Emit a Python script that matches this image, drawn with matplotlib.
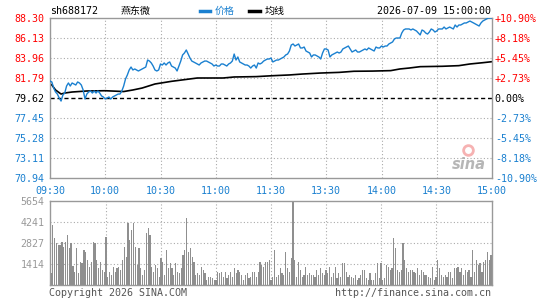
import numpy as np
import matplotlib
matplotlib.use('Agg')
import matplotlib.pyplot as plt

# ------------------------------ Data ------------------------------------------
code = 'sh688172'
name = '燕东微'
stamp = '2026-07-09 15:00:00'
prev_close = 79.62

price_ticks = [70.94, 73.11, 75.28, 77.45, 79.62, 81.79, 83.96, 86.13, 88.30]
pct_labels = ['-10.90%', '-8.18%', '-5.45%', '-2.73%', '0.00%',
              '+2.73%', '+5.45%', '+8.18%', '+10.90%']
time_labels = ['09:30', '10:00', '10:30', '11:00', '11:30',
               '13:30', '14:00', '14:30', '15:00']
vol_ticks = [1414, 2827, 4241, 5654]

# one value per trading minute (241 points, 11:30 and 13:00 share the middle)
price = [
    81.46, 81.36, 80.70, 80.27, 80.05, 79.62, 79.29, 79.94, 80.16, 80.92,
    81.25, 80.92, 81.25, 81.14, 81.03, 81.36, 81.25, 81.03, 80.49, 79.51,
    80.05, 80.27, 80.38, 80.16, 80.38, 80.16, 80.38, 80.16, 79.84, 79.73,
    79.51, 79.62, 79.73, 79.51, 79.73, 79.84, 79.94, 80.05, 80.05, 80.38,
    80.92, 81.68, 82.12, 82.66, 82.98, 82.66, 82.77, 82.66, 82.55, 82.66,
    82.77, 82.87, 82.98, 83.74, 83.63, 83.42, 83.09, 82.66, 82.55, 82.66,
    83.31, 83.20, 83.42, 83.20, 83.42, 83.53, 83.09, 82.98, 82.87, 82.55,
    83.09, 83.63, 84.29, 84.50, 84.83, 84.39, 83.96, 83.63, 83.53, 83.42,
    83.31, 83.20, 83.42, 83.53, 83.63, 83.63, 83.53, 83.42, 83.31, 83.09,
    83.20, 83.09, 83.09, 83.31, 83.31, 83.20, 83.09, 83.31, 83.42, 83.63,
    84.39, 83.74, 84.07, 83.53, 83.42, 83.31, 83.20, 83.20, 83.09, 82.87,
    83.09, 83.20, 82.87, 83.42, 83.31, 83.42, 83.63, 83.74, 83.85, 83.85,
    83.96, 83.53, 83.63, 83.74, 83.74, 83.85, 83.96, 84.07, 84.29, 84.39,
    84.72, 85.37, 85.48, 85.26, 85.37, 85.48, 85.05, 85.05, 85.15, 84.72,
    84.61, 84.50, 84.07, 84.29, 84.29, 84.18, 84.07, 83.85, 84.50, 84.94,
    84.94, 84.83, 84.07, 84.29, 84.39, 84.50, 84.61, 84.50, 84.61, 84.94,
    85.05, 85.15, 85.26, 84.94, 84.61, 84.72, 84.83, 84.61, 84.61, 84.72,
    84.83, 84.94, 84.83, 85.05, 84.94, 84.83, 84.72, 85.15, 85.05, 85.05,
    85.26, 85.15, 85.26, 85.26, 85.48, 85.59, 85.70, 86.02, 86.13, 86.13,
    86.13, 86.67, 87.00, 87.11, 87.11, 87.11, 87.00, 87.11, 87.00, 86.89,
    86.67, 86.46, 87.00, 86.89, 86.67, 86.56, 86.78, 87.11, 87.00, 86.78,
    86.89, 87.11, 87.11, 87.11, 87.32, 87.11, 87.22, 87.32, 87.22, 87.11,
    87.54, 87.32, 87.54, 87.54, 87.65, 87.76, 87.76, 87.87, 87.97, 87.87,
    87.76, 87.65, 87.54, 87.43, 87.76, 87.97, 88.08, 88.19, 88.30, 88.30,
    88.30,
]

# average-price line, read at the minutes where it bends
avg_minute = [0, 1, 3, 6, 8, 12, 20, 30, 40, 45, 50, 57, 66, 80, 94, 100,
              112, 121, 130, 137, 147, 157, 165, 175, 185, 190, 195, 201,
              213, 222, 228, 235, 240]
avg_price = [81.14, 81.03, 80.49, 80.05, 80.16, 80.27, 80.38, 80.41, 80.32,
             80.49, 80.70, 81.14, 81.43, 81.79, 81.79, 81.90, 81.94, 82.04,
             82.12, 82.22, 82.33, 82.40, 82.52, 82.54, 82.59, 82.77, 82.87,
             83.02, 83.06, 83.13, 83.31, 83.45, 83.56]

volume = [
    785, 4038, 3140, 2804, 2692, 2692, 2916, 2580, 2916, 3365,
    2468, 2804, 1279, 897, 2468, 785, 1570, 1458, 2355, 2243,
    1683, 1234, 1570, 2916, 2804, 1683, 1122, 1570, 1010, 897,
    3253, 561, 897, 673, 1234, 897, 1122, 1234, 1010, 1683,
    2580, 1907, 4150, 3028, 3700, 4150, 2580, 1346, 2468, 1122,
    673, 1010, 3477, 3813, 3365, 1234, 897, 1346, 1122, 561,
    1795, 1570, 673, 2355, 1122, 1458, 1122, 673, 1458, 897,
    785, 1122, 2019, 2355, 4487, 2243, 2468, 1907, 1570, 673,
    785, 673, 1234, 1010, 785, 337, 561, 561, 449, 337,
    337, 897, 785, 897, 561, 897, 449, 673, 897, 561,
    1122, 785, 1010, 897, 673, 337, 673, 785, 449, 561,
    897, 897, 561, 897, 1570, 1346, 1234, 1570, 1570, 1683,
    337,
    561, 2355, 561, 673, 1122, 785, 673, 2243, 1122, 897,
    1795, 5654, 1683, 561, 1570, 1010, 561, 673, 1234, 673,
    785, 673, 673, 561, 1010, 673, 1122, 785, 673, 1010, 785,
    1234, 561, 785, 1234, 449, 785, 561, 1458, 1458, 897,
    561, 673, 561, 449, 673, 337, 449, 673, 1010, 1010,
    449, 337, 785, 337, 337, 785, 1458, 449, 1458, 337,
    449, 1346, 1234, 1010, 1122, 3140, 2468, 1010, 897, 1010,
    2804, 1683, 1122, 897, 1010, 1010, 897, 785, 1122, 673,
    1010, 897, 673, 673, 561, 449, 1234, 337, 561, 1683,
    1122, 673, 561, 673, 561, 897, 897, 449, 1122, 1122,
    1234, 897, 1122, 673, 1010, 897, 1010, 561, 2355, 897,
    1683, 1346, 1458, 897, 1570, 1683, 2243, 1683, 2019,
]

# ------------------------------ Style -----------------------------------------
RED = '#ff0000'
BLUE = '#1a80d0'
GRAY = '#999999'
BAR = '#8f8f8f'
GRID = '#aaaaaa'
MONO = ['DejaVu Sans Mono', 'Noto Sans CJK SC']
FS = 7.2
W, H = 545, 300

plt.rcParams['font.family'] = MONO
plt.rcParams['font.size'] = FS

minutes = np.arange(len(price))
n_last = len(price) - 1


def px(x, y):
    return x / W, 1 - y / H


def label_color(v):
    if v > prev_close + 1e-6:
        return RED
    if v < prev_close - 1e-6:
        return BLUE
    return 'black'


fig = plt.figure(figsize=(W / 100, H / 100), dpi=100)
fig.patch.set_facecolor('white')

# ------------------------------ Price panel -----------------------------------
l, b = px(50, 178)
ax = fig.add_axes([l, b, 442 / W, 160 / H])
ax.set_xlim(0, n_last)
ax.set_ylim(price_ticks[0], price_ticks[-1])
for s in ax.spines.values():
    s.set_color(GRAY)
    s.set_linewidth(1.0)

for v in price_ticks[1:-1]:
    if abs(v - prev_close) < 1e-6:
        ax.axhline(v, color='black', lw=1.0, ls=(0, (3, 2)), zorder=1)
    else:
        ax.axhline(v, color=GRID, lw=0.8, ls=(0, (1, 2)), zorder=1)
xt = np.arange(0, n_last + 1, 30)
for x in xt[1:-1]:
    ax.axvline(x, color=GRID, lw=0.8, ls=(0, (1, 2)), zorder=1)

ax.plot(minutes, price, color=BLUE, lw=1.0, zorder=3)
ax.plot(avg_minute, avg_price, color='black', lw=1.2, zorder=2)

ax.set_yticks(price_ticks)
ax.set_yticklabels([f'{v:.2f}' for v in price_ticks])
for t, v in zip(ax.get_yticklabels(), price_ticks):
    t.set_color(label_color(v))
ax.tick_params(axis='y', length=0, pad=4, labelsize=FS)

ax.set_xticks(xt)
ax.set_xticklabels(time_labels, color=BLUE)
ax.tick_params(axis='x', length=0, pad=5.5, labelsize=FS)

axr = ax.twinx()
axr.set_ylim(ax.get_ylim())
axr.set_yticks(price_ticks)
axr.set_yticklabels(pct_labels)
for t, v in zip(axr.get_yticklabels(), price_ticks):
    t.set_color(label_color(v))
axr.tick_params(axis='y', length=0, pad=2, labelsize=FS)
for s in axr.spines.values():
    s.set_visible(False)

# sina watermark
ax.plot([0.945], [0.175], transform=ax.transAxes, marker='o', ms=7,
        mfc='none', mec='#f08080', mew=2, alpha=0.6, zorder=0)
ax.text(0.985, 0.035, 'sina', transform=ax.transAxes, ha='right', va='bottom',
        fontsize=10.5, fontweight='bold', fontstyle='italic', color='#aaaaaa',
        family='DejaVu Sans', alpha=0.85, zorder=0)

# ------------------------------ Volume panel ----------------------------------
l, b = px(50, 285)
axv = fig.add_axes([l, b, 442 / W, 84 / H])
axv.set_xlim(-0.5, n_last + 0.5)
axv.set_ylim(0, vol_ticks[-1])
for s in axv.spines.values():
    s.set_color(GRAY)
    s.set_linewidth(1.0)
for v in vol_ticks[:-1]:
    axv.axhline(v, color=GRID, lw=0.8, ls=(0, (1, 2)), zorder=1)
for x in xt[1:-1]:
    axv.axvline(x, color=GRID, lw=0.8, ls=(0, (1, 2)), zorder=1)
axv.bar(minutes, volume, width=0.65, color=BAR, linewidth=0, zorder=2)
axv.set_xticks([])
axv.set_yticks(vol_ticks)
axv.set_yticklabels([str(v) for v in vol_ticks], color=GRAY)
axv.tick_params(axis='y', length=0, pad=4, labelsize=FS)

# ------------------------------ Header / footer -------------------------------
fig.text(*px(50, 11), code, ha='left', va='center', fontsize=FS)
fig.text(*px(121, 11), name, ha='left', va='center', fontsize=FS)
fig.text(*px(215, 11), '价格', ha='left', va='center', fontsize=FS, color=BLUE)
fig.text(*px(265, 11), '均线', ha='left', va='center', fontsize=FS)
fig.add_artist(plt.Line2D([200 / W, 210 / W], [1 - 11 / H] * 2, color=BLUE, lw=2.5))
fig.add_artist(plt.Line2D([249 / W, 260 / W], [1 - 11 / H] * 2, color='black', lw=2.5))
fig.text(*px(491, 11), stamp, ha='right', va='center', fontsize=FS)
fig.text(*px(49, 293), 'Copyright 2026 SINA.COM', ha='left', va='center',
         fontsize=FS, color='#555555')
fig.text(*px(491, 293), 'http://finance.sina.com.cn', ha='right', va='center',
         fontsize=FS, color='#555555')

fig.savefig('out.png', dpi=100, facecolor='white')
